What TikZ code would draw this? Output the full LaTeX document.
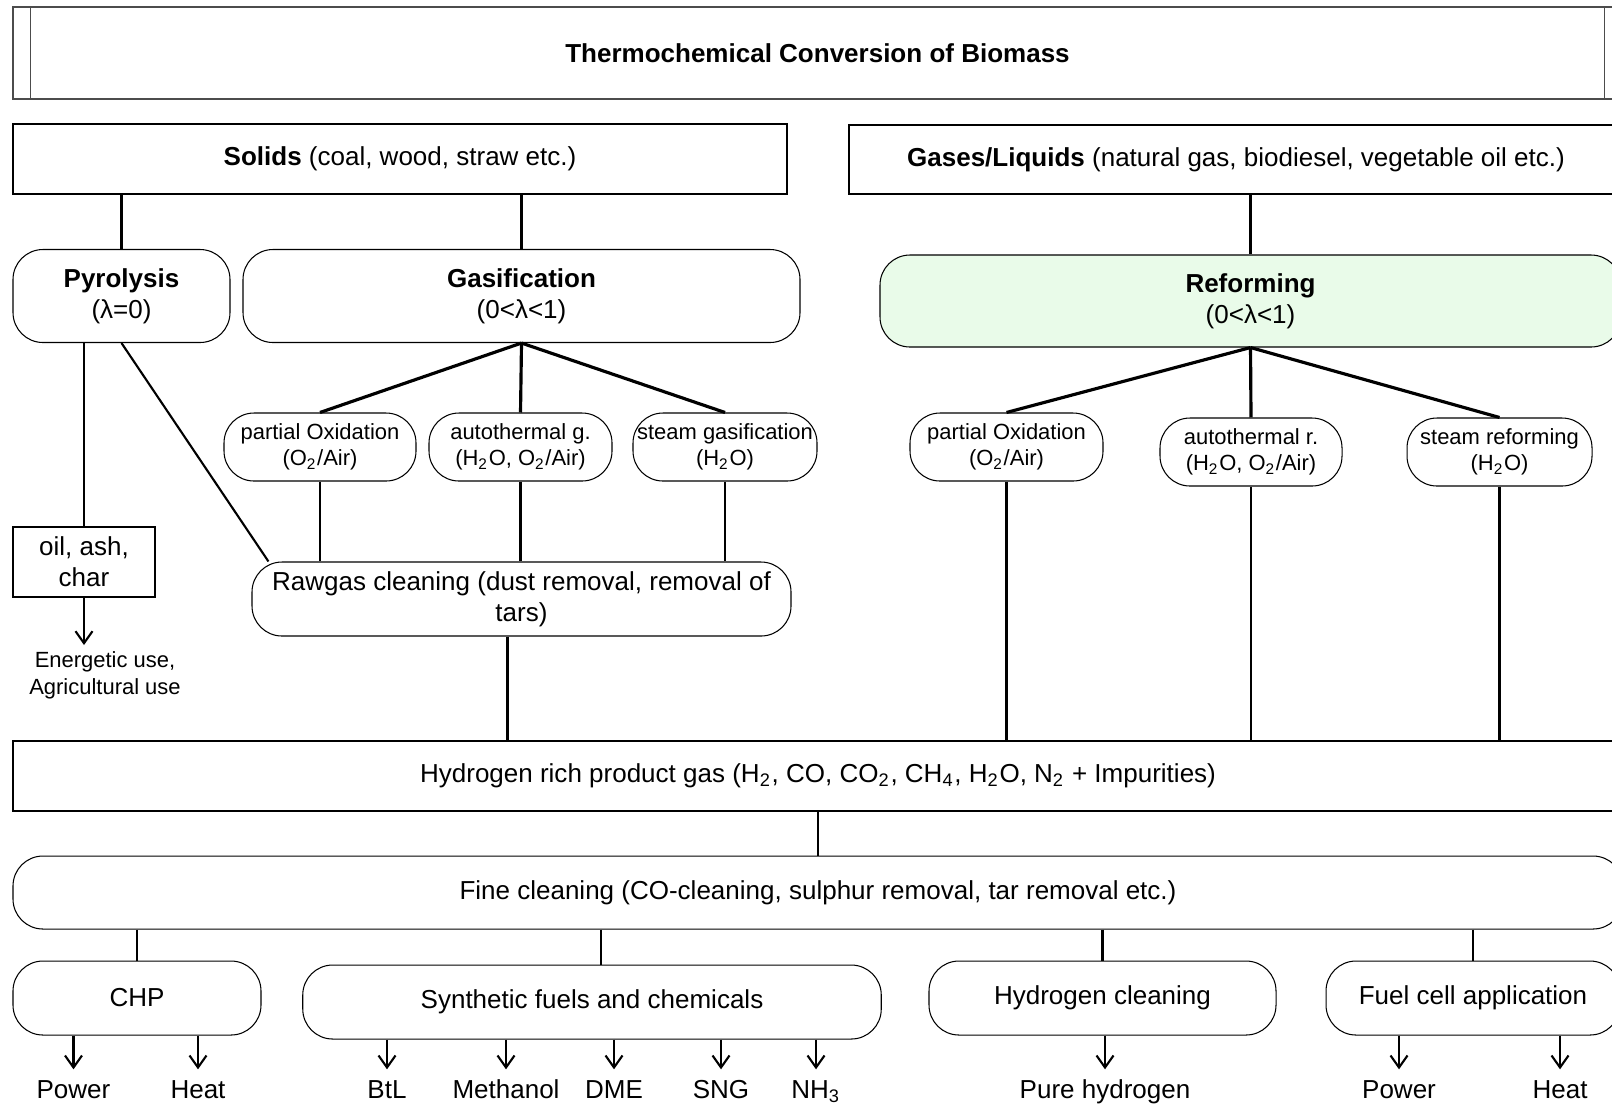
\documentclass[tikz,border=0pt]{standalone}
\usepackage{fontspec}
\setmainfont{Liberation Sans}
\usetikzlibrary{arrows.meta}
\definecolor{reformgreen}{RGB}{233,251,233}
\tikzset{
  plainbox/.style={draw, line width=0.3pt, inner sep=0pt, align=center,
    font=\fontsize{7.4}{8.8}\selectfont},
  pillbox/.style={plainbox, rounded corners=3mm},
  smallpill/.style={pillbox, font=\fontsize{6.25}{7.4}\selectfont},
  link/.style={line width=0.6pt},
  fan/.style={line width=0.9pt},
  outarrow/.style={line width=0.6pt, -{Straight Barb[length=1.2mm,width=1.7mm]}},
  outlabel/.style={anchor=base, inner sep=0.9mm, text height=1.9mm,
    font=\fontsize{7.4}{8.8}\selectfont}
}
\newcommand{\sub}[1]{\textsubscript{#1}}
\begin{document}
\begin{tikzpicture}
  \useasboundingbox (0,0) rectangle (16.12,-11.05);
  \clip (0,0) rectangle (16.12,-11.05);

  % Title
  \node [plainbox, draw=black!70, minimum width=16.09cm, minimum height=0.92cm]
        (title) at (8.175,-0.53) {\textbf{Thermochemical Conversion of Biomass}};
  \draw [draw=black!70, line width=0.3pt] ([xshift=1.8mm]title.north west)
        -- ([xshift=1.8mm]title.south west);
  \draw [draw=black!70, line width=0.3pt] ([xshift=-1.8mm]title.north east)
        -- ([xshift=-1.8mm]title.south east);

  % Feedstocks
  \node [plainbox, minimum width=7.74cm, minimum height=0.70cm] (solids)
        at (4.00,-1.59) {\textbf{Solids} (coal, wood, straw etc.)};
  \node [plainbox, minimum width=7.74cm, minimum height=0.69cm] (gases)
        at (12.36,-1.595) {\textbf{Gases/Liquids} (natural gas, biodiesel, vegetable oil etc.)};

  % Processes
  \node [pillbox, minimum width=2.17cm, minimum height=0.93cm] (pyro)
        at (1.215,-2.96) {\textbf{Pyrolysis}\\(λ=0)};
  \node [pillbox, minimum width=5.57cm, minimum height=0.93cm] (gasif)
        at (5.215,-2.96) {\textbf{Gasification}\\(0<λ<1)};
  \node [pillbox, fill=reformgreen, minimum width=7.41cm, minimum height=0.92cm] (reform)
        at (12.505,-3.01) {\textbf{Reforming}\\(0<λ<1)};
  \draw [link] (solids.south -| pyro.north) -- (pyro.north);
  \draw [link] (solids.south -| gasif.north) -- (gasif.north);
  \draw [link] (gases.south -| reform.north) -- (reform.north);

  % Gasification agents
  \node [smallpill, minimum width=1.92cm, minimum height=0.68cm] (gpox)
        at (3.20,-4.47) {partial Oxidation\\(O\sub{2}/Air)};
  \node [smallpill, minimum width=1.83cm, minimum height=0.68cm] (gauto)
        at (5.205,-4.47) {autothermal g.\\(H\sub{2}O, O\sub{2}/Air)};
  \node [smallpill, minimum width=1.84cm, minimum height=0.68cm] (gsteam)
        at (7.25,-4.47) {steam gasification\\(H\sub{2}O)};
  \draw [fan] (gasif.south) -- (gpox.north);
  \draw [fan] (gasif.south) -- (gauto.north);
  \draw [fan] (gasif.south) -- (gsteam.north);

  % Reforming agents
  \node [smallpill, minimum width=1.93cm, minimum height=0.68cm] (rpox)
        at (10.065,-4.47) {partial Oxidation\\(O\sub{2}/Air)};
  \node [smallpill, minimum width=1.82cm, minimum height=0.68cm] (rauto)
        at (12.51,-4.52) {autothermal r.\\(H\sub{2}O, O\sub{2}/Air)};
  \node [smallpill, minimum width=1.85cm, minimum height=0.68cm] (rsteam)
        at (14.995,-4.52) {steam reforming\\(H\sub{2}O)};
  \draw [fan] (reform.south) -- (rpox.north);
  \draw [fan] (reform.south) -- (rauto.north);
  \draw [fan] (reform.south) -- (rsteam.north);

  % Raw gas cleaning
  \node [pillbox, minimum width=5.39cm, minimum height=0.74cm] (rawgas)
        at (5.215,-5.99) {Rawgas cleaning (dust removal, removal of\\tars)};
  \draw [link] (gpox.south) -- (gpox.south |- rawgas.north);
  \draw [link] (gauto.south) -- (gauto.south |- rawgas.north);
  \draw [link] (gsteam.south) -- (gsteam.south |- rawgas.north);
  \draw [link] (pyro.south) -- ([xshift=1.7mm]rawgas.north west);

  % Pyrolysis products
  \node [plainbox, minimum width=1.42cm, minimum height=0.70cm] (oil)
        at (0.84,-5.62) {oil, ash,\\char};
  \node [align=center, anchor=north, inner sep=0.6mm,
        font=\fontsize{6.25}{7.6}\selectfont] (use)
        at (1.05,-6.45) {Energetic use,\\Agricultural use};
  \draw [link] (pyro.south -| oil.north) -- (oil.north);
  \draw [outarrow] (oil.south) -- (oil.south |- use.north);

  % Product gas
  \node [plainbox, minimum width=16.10cm, minimum height=0.70cm] (h2)
        at (8.18,-7.76) {Hydrogen rich product gas (H\sub{2}, CO, CO\sub{2},
        CH\sub{4}, H\sub{2}O, N\sub{2} + Impurities)};
  \draw [link] ([xshift=-1.4mm]rawgas.south) -- ([xshift=-1.4mm]rawgas.south |- h2.north);
  \draw [link] (rpox.south) -- (rpox.south |- h2.north);
  \draw [link] (rauto.south) -- (rauto.south |- h2.north);
  \draw [link] (rsteam.south) -- (rsteam.south |- h2.north);

  % Fine cleaning
  \node [pillbox, minimum width=16.10cm, minimum height=0.73cm] (fine)
        at (8.18,-8.925) {Fine cleaning (CO-cleaning, sulphur removal, tar removal etc.)};
  \draw [link] (h2.south) -- (fine.north);

  % Applications
  \node [pillbox, minimum width=2.48cm, minimum height=0.74cm] (chp)
        at (1.37,-9.98) {CHP};
  \node [pillbox, minimum width=5.785cm, minimum height=0.74cm] (synth)
        at (5.92,-10.02) {Synthetic fuels and chemicals};
  \node [pillbox, minimum width=3.47cm, minimum height=0.74cm] (hclean)
        at (11.025,-9.98) {Hydrogen cleaning};
  \node [pillbox, minimum width=2.94cm, minimum height=0.74cm] (fuelcell)
        at (14.73,-9.98) {Fuel cell application};
  \draw [link] (fine.south -| chp.north) -- (chp.north);
  \draw [link] ([xshift=0.9mm]synth.north |- fine.south) -- ([xshift=0.9mm]synth.north);
  \draw [link] (fine.south -| hclean.north) -- (hclean.north);
  \draw [link] (fine.south -| fuelcell.north) -- (fuelcell.north);

  % Outputs
  \node [outlabel] (chppower) at (0.735,-10.98) {Power};
  \node [outlabel] (chpheat) at (1.98,-10.98) {Heat};
  \node [outlabel] (btl) at (3.87,-10.98) {BtL};
  \node [outlabel] (methanol) at (5.06,-10.98) {Methanol};
  \node [outlabel] (dme) at (6.14,-10.98) {DME};
  \node [outlabel] (sng) at (7.21,-10.98) {SNG};
  \node [outlabel] (nh3) at (8.16,-10.98) {NH\sub{3}};
  \node [outlabel] (purehyd) at (11.05,-10.98) {Pure hydrogen};
  \node [outlabel] (fcpower) at (13.99,-10.98) {Power};
  \node [outlabel] (fcheat) at (15.60,-10.98) {Heat};
  \draw [outarrow] (chp.south -| chppower) -- (chppower.north);
  \draw [outarrow] (chp.south -| chpheat) -- (chpheat.north);
  \draw [outarrow] (synth.south -| btl) -- (btl.north);
  \draw [outarrow] (synth.south -| methanol) -- (methanol.north);
  \draw [outarrow] (synth.south -| dme) -- (dme.north);
  \draw [outarrow] (synth.south -| sng) -- (sng.north);
  \draw [outarrow] (synth.south -| nh3) -- (nh3.north);
  \draw [outarrow] (hclean.south -| purehyd) -- (purehyd.north);
  \draw [outarrow] (fuelcell.south -| fcpower) -- (fcpower.north);
  \draw [outarrow] (fuelcell.south -| fcheat) -- (fcheat.north);
\end{tikzpicture}
\end{document}
